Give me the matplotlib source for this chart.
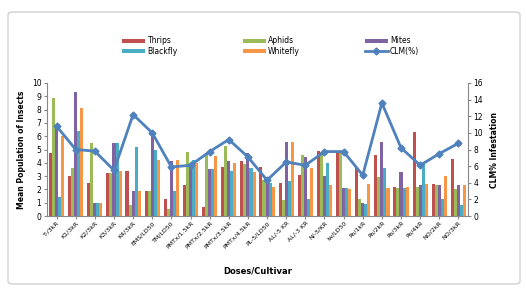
import matplotlib
matplotlib.use("Agg")
import matplotlib.pyplot as plt
import numpy as np
from matplotlib.patches import FancyBboxPatch

categories = ["T-/3kR", "K1/3kR", "K2/3kR", "K3/3kR", "K4/3kR", "EMS/LD50",
              "TM/LD50", "PMTx/1.5kR", "PMTx/2.5kR", "PMTx/3.5kR", "PMTx/4.5kR",
              "PL-5/LD50", "AL/-5 KR", "AL/-3 KR", "N/-5/KR", "Iw/LD50",
              "Po/1kR", "Po/2kR", "Po/3kR", "Po/4kR", "NO/2kR", "NO/3kR"]

thrips   = [4.7, 3.0, 2.5, 3.2, 3.4, 1.9, 1.3, 2.3, 0.7, 3.7, 4.1, 3.7, 2.5, 3.1, 4.9, 4.8, 3.6, 4.6, 2.2, 6.3, 2.4, 4.3]
aphids   = [8.9, 3.6, 5.5, 3.2, 0.8, 1.9, 0.5, 4.8, 4.7, 5.3, 3.9, 2.7, 1.2, 4.6, 4.8, 4.7, 1.3, 2.9, 2.1, 2.2, 2.3, 2.0]
mites    = [6.8, 9.3, 1.0, 5.5, 1.9, 6.3, 4.1, 3.8, 3.5, 4.1, 4.7, 2.6, 5.6, 4.4, 3.0, 2.1, 1.0, 5.6, 3.3, 2.3, 2.3, 2.3]
blackfly = [1.4, 6.4, 1.0, 5.5, 5.2, 5.0, 1.9, 4.2, 3.5, 3.4, 3.6, 2.5, 2.6, 1.3, 4.0, 2.1, 0.9, 3.6, 2.1, 3.9, 1.3, 0.8]
whitefly = [6.0, 8.1, 1.0, 3.4, 1.9, 4.2, 4.2, 4.0, 4.5, 4.0, 3.3, 2.2, 5.6, 3.6, 2.3, 2.0, 2.4, 2.1, 2.2, 2.4, 3.0, 2.3]
clm      = [10.8, 8.0, 7.8, 5.5, 12.2, 10.0, 5.9, 6.1, 7.75, 9.2, 7.1, 4.3, 6.5, 6.1, 7.75, 7.75, 4.9, 13.6, 8.2, 6.1, 7.5, 8.75]

series_names = ["Thrips", "Aphids", "Mites", "Blackfly", "Whitefly"]
series_vals = [thrips, aphids, mites, blackfly, whitefly]
colors = ["#C0504D", "#9BBB59", "#8064A2", "#4BACC6", "#F79646"]
line_color = "#4F81BD"

W, H = 526, 289
fig = plt.figure(figsize=(W / 100, H / 100), dpi=100)
fig.patches.append(FancyBboxPatch((8 / W, 5 / H), 512 / W, 272 / H,
                                  boxstyle="round,pad=0,rounding_size=0.01",
                                  transform=fig.transFigure, fill=False,
                                  edgecolor="#d0d0d0", linewidth=1.0))

ax = fig.add_axes([47 / W, (H - 216) / H, (468 - 47) / W, (216 - 83) / H])
x = np.arange(len(categories))
bw = 0.16
handles = []
for i, (name, vals, c) in enumerate(zip(series_names, series_vals, colors)):
    h = ax.bar(x + (i - 2) * bw, vals, width=bw, color=c, label=name, linewidth=0)
    handles.append(h)

ax.set_xlim(-0.5, len(categories) - 0.5)
ax.set_ylim(0, 10)
ax.set_yticks(range(0, 11))
ax.set_xticks(x)
ax.set_xticklabels(categories, rotation=45, ha="right", rotation_mode="anchor",
                   fontsize=4.5)
ax.tick_params(axis="y", labelsize=5.5, length=2, color="#888888", pad=2)
ax.tick_params(axis="x", length=2, color="#888888", pad=1)
for s in ["top", "right"]:
    ax.spines[s].set_visible(False)
for s in ["left", "bottom"]:
    ax.spines[s].set_color("#888888")
    ax.spines[s].set_linewidth(0.8)
ax.set_ylabel("Mean Population of Insects", fontsize=5.5, fontweight="bold", labelpad=4)
ax.set_xlabel("Doses/Cultivar", fontsize=6, fontweight="bold", labelpad=12)

ax2 = ax.twinx()
ln, = ax2.plot(x, clm, color=line_color, linewidth=2.0, marker="D", markersize=3.5,
               label="CLM(%)")
ax2.set_ylim(0, 16)
ax2.set_yticks(range(0, 17, 2))
ax2.tick_params(axis="y", labelsize=5.5, length=2, color="#888888", pad=2)
for s in ["top", "left", "bottom"]:
    ax2.spines[s].set_visible(False)
ax2.spines["right"].set_color("#888888")
ax2.spines["right"].set_linewidth(0.8)
ax2.set_ylabel("CLM% Infestation", fontsize=5.5, fontweight="bold", labelpad=5)

# legend laid out row-wise: Thrips, Aphids, Mites / Blackfly, Whitefly, CLM(%)
leg_handles = [handles[0], handles[3], handles[1], handles[4], handles[2], ln]
leg_labels = ["Thrips", "Blackfly", "Aphids", "Whitefly", "Mites", "CLM(%)"]
fig.legend(leg_handles, leg_labels, loc="center",
           bbox_to_anchor=(0.515, 1 - 46 / H), ncol=3, fontsize=5.5, frameon=False,
           handlelength=3.0, handleheight=0.5, columnspacing=8.5, labelspacing=0.15,
           handletextpad=0.3)

fig.savefig("out.png", dpi=100, facecolor="white")
